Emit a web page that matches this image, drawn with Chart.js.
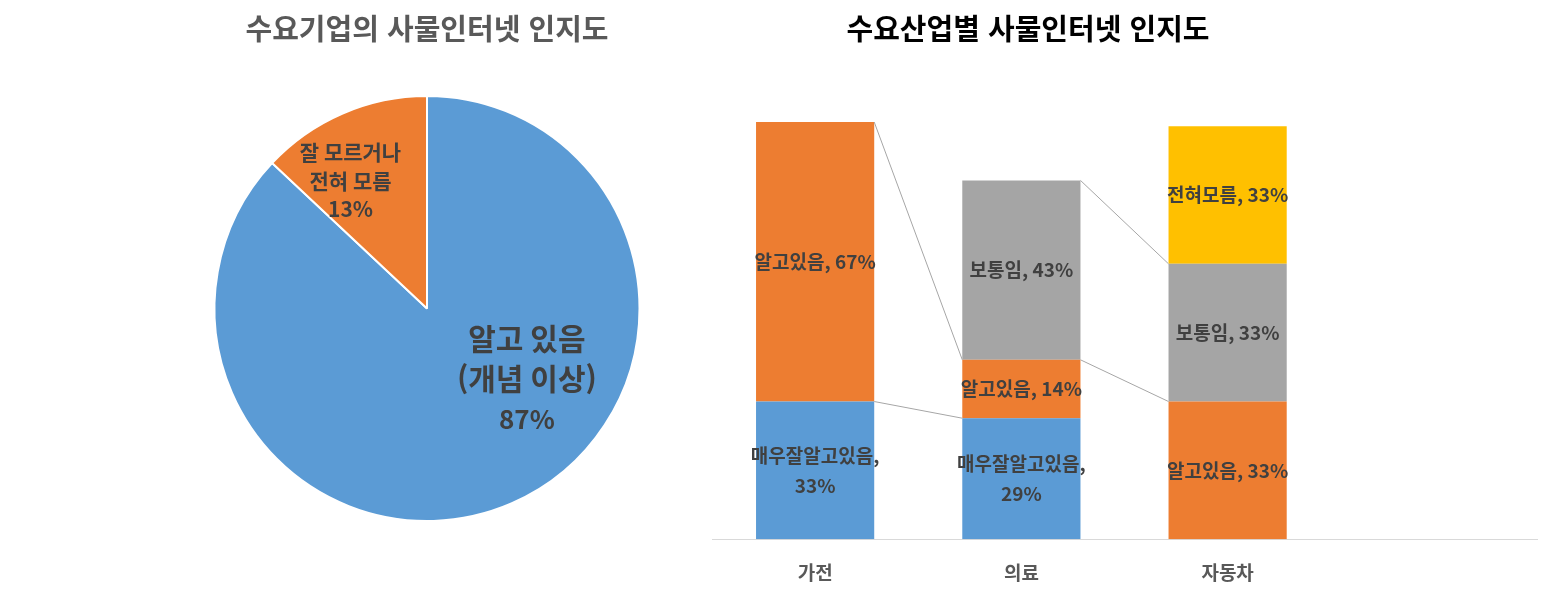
<!DOCTYPE html>
<html lang="ko">

<head>
  <meta charset="UTF-8">
  <title>사물인터넷 인지도</title>
  <script src="https://cdn.jsdelivr.net/npm/chart.js"></script>
  <style>
    body {
      margin: 0;
      background: #fff;
      width: 1553px;
      height: 595px;
      position: relative;
      overflow: hidden;
      font-family: 'Noto Sans CJK KR', 'Malgun Gothic', sans-serif;
    }

    canvas {
      position: absolute;
      top: 0;
    }

    #pieChart { left: 0; }
    #barChart { left: 700px; }

    .title {
      position: absolute;
      top: 9px;
      width: 600px;
      margin-left: -300px;
      text-align: center;
      font-size: 29px;
      font-weight: bold;
      line-height: 36px;
      white-space: nowrap;
    }

    #pieTitle { left: 427px; color: #595959; }
    #barTitle { left: 1028px; color: #000; }
  </style>
</head>

<body>
  <canvas id="pieChart" width="854" height="595"></canvas>
  <canvas id="barChart" width="853" height="617"></canvas>
  <div class="title" id="pieTitle">수요기업의 사물인터넷 인지도</div>
  <div class="title" id="barTitle">수요산업별 사물인터넷 인지도</div>

  <script>
    // left: pie
    const pieLabels = [['알고 있음', '(개념 이상)'], ['잘 모르거나', '전혀 모름']];
    const pieValues = [87, 13];
    const pieColors = ['#5B9BD5', '#ED7D31'];

    // right: stacked bars (4th slot is empty in the original)
    const industries = ['가전', '의료', '자동차', ''];
    const seriesNames = ['매우잘알고있음', '알고있음', '보통임', '전혀모름'];
    const veryWell = [33, 29, null, null];
    const know = [67, 14, 33, null];
    const average = [null, 43, 33, null];
    const notAtAll = [null, null, 33, null];
    const seriesColors = ['#5B9BD5', '#ED7D31', '#A5A5A5', '#FFC000'];

    const FONT = "'Noto Sans CJK KR', 'Malgun Gothic', sans-serif";
    Chart.defaults.font.family = FONT;

    // pie labels: placed relative to the slice's centre, as a share of the radius
    const pieLabelSpot = [
      { dx: 0.47, dy: 0.33, size: 30, pctSize: 26, gap: 40 },
      { dx: -0.36, dy: -0.60, size: 21, pctSize: 21, gap: 28.5 }
    ];

    const pieLabelPlugin = {
      id: 'pieLabels',
      afterDatasetsDraw(chart) {
        const ctx = chart.ctx;
        const arcs = chart.getDatasetMeta(0).data;
        ctx.save();
        ctx.fillStyle = '#404040';
        ctx.textAlign = 'center';
        ctx.textBaseline = 'middle';
        arcs.forEach((arc, i) => {
          const s = pieLabelSpot[i];
          const cx = arc.x + s.dx * arc.outerRadius;
          const cy = arc.y + s.dy * arc.outerRadius;
          const lines = pieLabels[i].concat([pieValues[i] + '%']);
          lines.forEach((t, k) => {
            const sz = k === lines.length - 1 ? s.pctSize : s.size;
            ctx.font = 'bold ' + sz + 'px ' + FONT;
            ctx.fillText(t, cx, cy + (k - 1) * s.gap);
          });
        });
        ctx.restore();
      }
    };

    new Chart(document.getElementById('pieChart'), {
      type: 'pie',
      data: {
        labels: pieLabels.map(l => l.join(' ')),
        datasets: [{
          data: pieValues,
          backgroundColor: pieColors,
          borderColor: '#fff',
          borderWidth: 2
        }]
      },
      options: {
        responsive: false,
        animation: false,
        rotation: 0,
        layout: { padding: { top: 95, bottom: 73 } },
        plugins: {
          legend: { display: false },
          tooltip: { enabled: false }
        }
      },
      plugins: [pieLabelPlugin]
    });

    // series lines between bars + data labels
    const barExtras = {
      id: 'barExtras',
      afterDatasetsDraw(chart) {
        const ctx = chart.ctx;
        ctx.save();
        ctx.strokeStyle = '#A6A6A6';
        ctx.lineWidth = 1;
        chart.data.datasets.forEach((ds, d) => {
          const bars = chart.getDatasetMeta(d).data;
          for (let j = 0; j < ds.data.length - 1; j++) {
            if (ds.data[j] == null || ds.data[j + 1] == null) continue;
            const a = bars[j], b = bars[j + 1];
            ctx.beginPath();
            ctx.moveTo(a.x + a.width / 2, a.y);
            ctx.lineTo(b.x - b.width / 2, b.y);
            ctx.stroke();
          }
        });

        ctx.fillStyle = '#404040';
        ctx.textAlign = 'center';
        ctx.textBaseline = 'middle';
        ctx.font = 'bold 19px ' + FONT;
        chart.data.datasets.forEach((ds, d) => {
          const bars = chart.getDatasetMeta(d).data;
          ds.data.forEach((v, j) => {
            if (v == null) return;
            const el = bars[j];
            const p = el.getCenterPoint();
            const full = ds.label + ', ' + v + '%';
            if (ctx.measureText(full).width > el.width + 16) {
              ctx.fillText(ds.label + ',', p.x, p.y - 15);
              ctx.fillText(v + '%', p.x, p.y + 15);
            } else {
              ctx.fillText(full, p.x, p.y);
            }
          });
        });
        ctx.restore();
      }
    };

    const barSeries = [veryWell, know, average, notAtAll];

    new Chart(document.getElementById('barChart'), {
      type: 'bar',
      data: {
        labels: industries,
        datasets: barSeries.map((vals, i) => ({
          label: seriesNames[i],
          data: vals,
          backgroundColor: seriesColors[i],
          barPercentage: 0.573,
          categoryPercentage: 1.0
        }))
      },
      options: {
        responsive: false,
        animation: false,
        layout: { padding: { top: 122, left: 12, right: 16, bottom: 11 } },
        plugins: {
          legend: { display: false },
          tooltip: { enabled: false }
        },
        scales: {
          x: {
            stacked: true,
            grid: { display: true, drawOnChartArea: false, drawTicks: false },
            border: { color: '#D9D9D9', width: 1 },
            ticks: { color: '#595959', font: { size: 19, weight: 'bold' }, padding: 22 }
          },
          y: {
            stacked: true,
            display: false,
            min: 0,
            max: 100
          }
        }
      },
      plugins: [barExtras]
    });
  </script>
</body>

</html>
